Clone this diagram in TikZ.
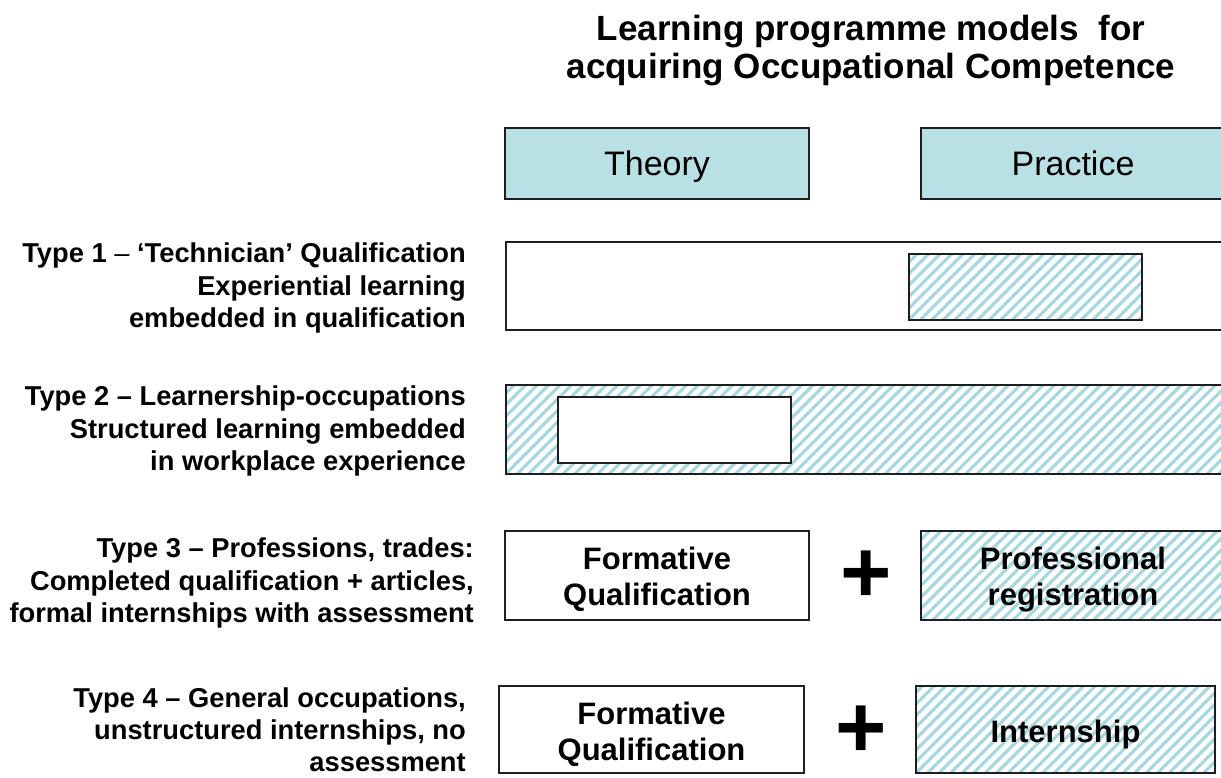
\documentclass[tikz,border=0pt]{standalone}
\usepackage{fontspec}
\setmainfont{Liberation Sans}
\definecolor{tealfill}{RGB}{185,224,228}
\definecolor{hatchcol}{RGB}{168,216,221}
\definecolor{edge}{RGB}{30,30,30}
% strut that pushes a two-line box text slightly downwards
\newcommand{\topstrut}[1]{\rule{0pt}{#1pt}}
\begin{document}
\begin{tikzpicture}[x=1pt,y=-1pt,
  box/.style={draw=edge,line width=1.6pt,inner sep=0pt,align=center,fill=white},
  head/.style={box,fill=tealfill,minimum width=304pt,minimum height=71pt,
    text height=25pt,text depth=0pt,font=\fontsize{34}{40}\selectfont},
  boxtext/.style={font=\fontsize{31}{36}\selectfont\bfseries},
  hatched/.style={path picture={
    \foreach \k in {-10,...,70}
      \draw[hatchcol,line width=3.2pt]
        ([xshift=\k*11.5pt]path picture bounding box.south west) -- ++(130,-130);}},
  rowlabel/.style={anchor=north east,align=right,inner sep=0pt,
    font=\fontsize{27.3}{32.5}\selectfont\bfseries},
  plus/.style={inner sep=0pt,font=\fontsize{88}{88}\selectfont\bfseries}]
\clip (0,0) rectangle (1221,778);
\fill[white] (0,0) rectangle (1221,778);

% title
\node[align=center,font=\fontsize{35}{38}\selectfont\bfseries] (title) at (871,51)
  {Learning programme models\ \ for\\acquiring Occupational Competence};

% column headers
\node[head] (theory) at (657,163.5) {Theory};
\node[head] (practice) at (1073,163.5) {Practice};

% Type 1
\node[rowlabel] (lab1) at (466,243)
  {Type 1 {\mdseries –} ‘Technician’ Qualification\\Experiential learning\\embedded in qualification};
\node[box,minimum width=730pt,minimum height=88pt,anchor=north west] (row1) at (505,241) {};
\node[box,hatched,minimum width=233pt,minimum height=66pt,anchor=north west] (prac1) at (908,253) {};

% Type 2
\node[rowlabel] (lab2) at (466,386)
  {Type 2 – Learnership-occupations\\Structured learning embedded\\in workplace experience};
\node[box,hatched,minimum width=730pt,minimum height=89pt,anchor=north west] (row2) at (505,384) {};
\node[box,minimum width=233pt,minimum height=66pt,anchor=north west] (theo2) at (557,396) {};

% Type 3
\node[rowlabel] (lab3) at (474,538)
  {Type 3 – Professions, trades:\\Completed qualification + articles,\\formal internships with assessment};
\node[box,boxtext,minimum width=304pt,minimum height=89pt] (form3) at (657,575.5)
  {\topstrut{31}Formative\\Qualification};
\node[plus] (plus3) at (866,577) {+};
\node[box,hatched,boxtext,minimum width=304pt,minimum height=89pt] (prof3) at (1073,575.5)
  {\topstrut{31}Professional\\registration};

% Type 4
\node[rowlabel,font=\fontsize{27.3}{32}\selectfont\bfseries] (lab4) at (466,688)
  {Type 4 – General occupations,\\unstructured internships, no\\assessment};
\node[box,boxtext,minimum width=305pt,minimum height=87pt] (form4) at (651.5,729.5)
  {\topstrut{33}Formative\\Qualification};
\node[plus] (plus4) at (861,732) {+};
\node[box,hatched,boxtext,minimum width=299pt,minimum height=87pt,
  text height=25pt,text depth=0pt] (intern4) at (1065.5,729.5)
  {Internship};
\end{tikzpicture}
\end{document}
